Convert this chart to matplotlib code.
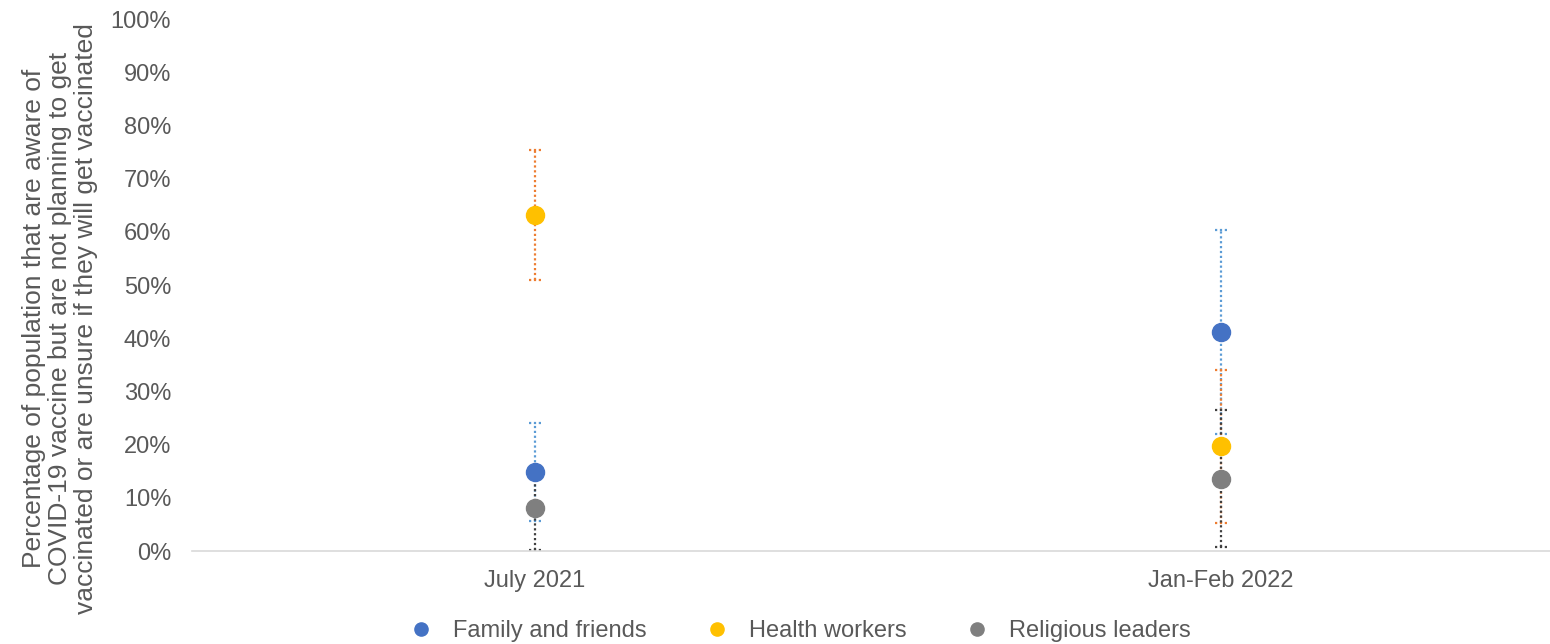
import matplotlib
matplotlib.use("Agg")
import matplotlib.pyplot as plt
import numpy as np

plt.rcParams['font.family'] = ['Liberation Sans', 'DejaVu Sans']

periods = ["July 2021", "Jan-Feb 2022"]
series = ["Family and friends", "Health workers", "Religious leaders"]

family_vals = [14.8, 41.2]
family_low = [5.7, 22.0]
family_high = [24.1, 60.3]

health_vals = [63.2, 19.7]
health_low = [50.9, 5.3]
health_high = [75.4, 34.0]

religious_vals = [8.1, 13.5]
religious_low = [0.2, 0.8]
religious_high = [15.5, 26.5]

marker_colors = ["#4472C4", "#FFC000", "#7F7F7F"]
err_colors = ["#5B9BD5", "#ED7D31", "#404040"]

fig = plt.figure(figsize=(15.5, 6.44), dpi=100)
ax = fig.add_axes([192 / 1550, 1 - 551 / 644, (1564 - 192) / 1550, (551 - 19) / 644])

x = np.arange(len(periods))
text_c = "#595959"
fs = 17

data = [
    (family_vals, family_low, family_high),
    (health_vals, health_low, health_high),
    (religious_vals, religious_low, religious_high),
]

# dotted error bars with small caps, drawn beneath the markers
for (vals, lo, hi), ec in zip(data, err_colors):
    for xi, l, h in zip(x, lo, hi):
        ax.plot([xi, xi], [l, h], color=ec, lw=1.6, ls=(0, (1, 1.2)), zorder=2)
        for yy in (l, h):
            ax.plot([xi - 0.009, xi + 0.009], [yy, yy], color=ec, lw=1.6,
                    ls=(0, (1, 1.2)), zorder=2)

for (vals, lo, hi), mc, name in zip(data, marker_colors, series):
    ax.plot(x, vals, ls="none", marker="o", ms=13, color=mc, zorder=3, label=name)

ax.set_xlim(-0.5, 1.5)
ax.set_ylim(0, 100)
ax.set_yticks(np.arange(0, 101, 10))
ax.set_yticklabels([f"{v}%" for v in range(0, 101, 10)])
ax.set_xticks(x)
ax.set_xticklabels(periods)

for s in ["top", "right", "left"]:
    ax.spines[s].set_visible(False)
ax.spines["bottom"].set_color("#D9D9D9")
ax.spines["bottom"].set_linewidth(1.2)

ax.tick_params(axis="y", length=0, labelsize=fs, labelcolor=text_c, pad=15)
ax.tick_params(axis="x", length=0, labelsize=fs, labelcolor=text_c, pad=14)

fig.text(60 / 1550, 0.505,
         "Percentage of population that are aware of\n"
         "COVID-19 vaccine but are not planning to get\n"
         "vaccinated or are unsure if they will get vaccinated",
         rotation=90, ha="center", va="center", fontsize=19, color=text_c,
         linespacing=1.1)

leg = fig.legend(loc="center", bbox_to_anchor=(800 / 1550, 1 - 631 / 644), ncol=3,
                 frameon=False, fontsize=fs, handlelength=1.0, handletextpad=0.86,
                 columnspacing=2.47, markerscale=0.73, borderpad=0)
for t in leg.get_texts():
    t.set_color(text_c)

fig.savefig("out.png", dpi=100)
